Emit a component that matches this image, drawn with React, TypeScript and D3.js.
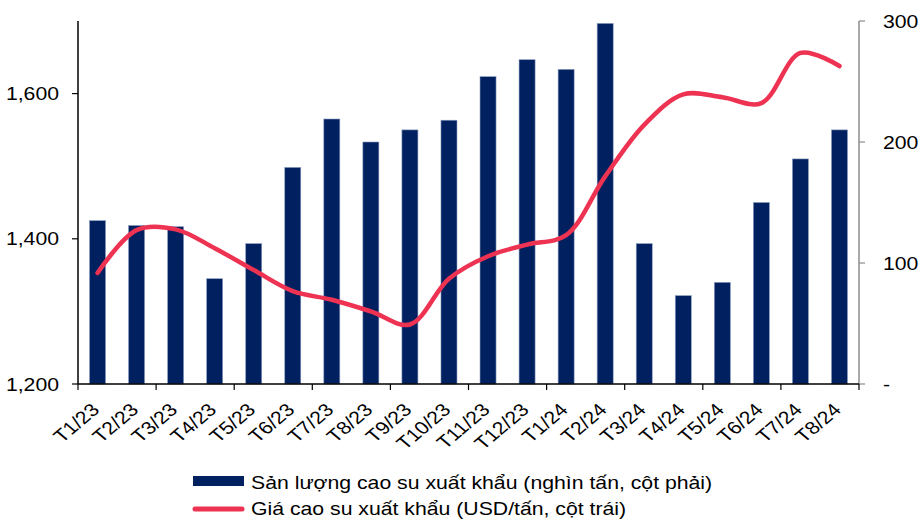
import React from "react";
import * as d3 from "d3";

const categories = ["T1/23","T2/23","T3/23","T4/23","T5/23","T6/23","T7/23","T8/23","T9/23","T10/23","T11/23","T12/23","T1/24","T2/24","T3/24","T4/24","T5/24","T6/24","T7/24","T8/24"];
const volume = [135, 131, 130, 87, 116, 179, 219, 200, 210, 218, 254, 268, 260, 298, 116, 73, 84, 150, 186, 210];
const price = [1353, 1412, 1413, 1387, 1357, 1328, 1316, 1300, 1282, 1345, 1376, 1392, 1405, 1486, 1557, 1599, 1595, 1587, 1656, 1638];
const leftTicks = [1200, 1400, 1600];
const rightTicks = [0, 100, 200, 300];
const legendBar = "Sản lượng cao su xuất khẩu (nghìn tấn, cột phải)";
const legendLine = "Giá cao su xuất khẩu (USD/tấn, cột trái)";

const NAVY = "#002060";
const RED = "#EE3352";
const FONT = "'Liberation Sans', Arial, sans-serif";
const SX = 1.18;
const FS = 18;

export default function App() {
  const left = 78, right = 859, top = 21, bottom = 384;
  const x = d3.scaleBand<string>().domain(categories).range([left, right]).paddingInner(0).paddingOuter(0);
  const yL = d3.scaleLinear().domain([1200, 1700]).range([bottom, top]);
  const yR = d3.scaleLinear().domain([0, 300]).range([bottom, top]);
  const bw = x.bandwidth() * 0.41;
  const line = d3.line<number>()
    .x((_, i) => (x(categories[i]) as number) + x.bandwidth() / 2)
    .y((d) => yL(d))
    .curve(d3.curveCatmullRom.alpha(0.5));
  const xTicks = categories.filter((_, i) => i % 2 === 0).map((c) => x(c) as number).concat([right]);

  return (
    <svg width={920} height={523} style={{ position: "absolute", left: 0, top: 0, background: "#fff" }} fontFamily={FONT}>
      {categories.map((c, i) => (
        <rect key={c} x={(x(c) as number) + x.bandwidth() / 2 - bw / 2} y={yR(volume[i])} width={bw} height={bottom - yR(volume[i])} fill={NAVY} stroke="#8a9bc0" strokeWidth={0.6} />
      ))}
      <path d={line(price) || ""} fill="none" stroke={RED} strokeWidth={4.5} strokeLinecap="round" strokeLinejoin="round" />
      {/* left axis */}
      <line x1={left} x2={left} y1={top} y2={bottom} stroke="#000" strokeWidth={1.5} />
      {leftTicks.map((t) => (
        <g key={t}>
          <line x1={left - 6} x2={left} y1={yL(t)} y2={yL(t)} stroke="#000" strokeWidth={1.2} />
          <g transform={`translate(${left - 19},${yL(t) + 6.5}) scale(${SX},1)`}>
            <text textAnchor="end" fontSize={FS} fill="#000">{d3.format(",")(t)}</text>
          </g>
        </g>
      ))}
      {/* right axis */}
      <line x1={right} x2={right} y1={top} y2={bottom} stroke="#8c8c8c" strokeWidth={1.5} />
      {rightTicks.map((t) => (
        <g key={t}>
          <line x1={right} x2={right + 6} y1={yR(t)} y2={yR(t)} stroke="#8c8c8c" strokeWidth={1.2} />
          <g transform={`translate(${right + 24},${yR(t) + 6.5}) scale(${SX},1)`}>
            <text textAnchor="start" fontSize={FS} fill="#000">{t === 0 ? "-" : t}</text>
          </g>
        </g>
      ))}
      {/* x axis */}
      <line x1={left} x2={right} y1={bottom} y2={bottom} stroke="#000" strokeWidth={1.5} />
      {xTicks.map((tx, i) => (
        <line key={i} x1={tx} x2={tx} y1={bottom} y2={bottom + 6} stroke="#000" strokeWidth={1.2} />
      ))}
      {categories.map((c) => (
        <g key={c} transform={`translate(${(x(c) as number) + x.bandwidth() / 2 + 3},${bottom + 27}) scale(${SX},1) rotate(-45)`}>
          <text textAnchor="end" fontSize={FS} fill="#000">{c}</text>
        </g>
      ))}
      {/* legend */}
      <rect x={193} y={476} width={51} height={10} fill={NAVY} />
      <g transform={`translate(251,489) scale(${SX},1)`}>
        <text fontSize={FS} fill="#000">{legendBar}</text>
      </g>
      <line x1={195} x2={242} y1={509} y2={509} stroke={RED} strokeWidth={5} strokeLinecap="round" />
      <g transform={`translate(251,515) scale(${SX},1)`}>
        <text fontSize={FS} fill="#000">{legendLine}</text>
      </g>
    </svg>
  );
}
